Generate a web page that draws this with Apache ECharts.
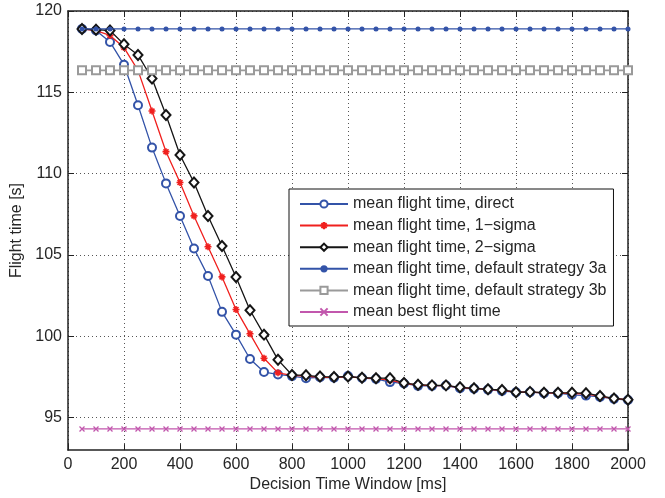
<!DOCTYPE html>
<html>
<head>
<meta charset="utf-8">
<script src="https://cdn.jsdelivr.net/npm/echarts@6/dist/echarts.min.js"></script>
<style>
html,body{margin:0;padding:0;background:#fff;}
#chart{width:665px;height:498px;}
</style>
</head>
<body>
<div id="chart"></div>
<script>
// Decision time window [ms]
var xValues = [50,100,150,200,250,300,350,400,450,500,550,600,650,700,750,800,850,900,950,1000,
  1050,1100,1150,1200,1250,1300,1350,1400,1450,1500,1550,1600,1650,1700,1750,1800,1850,1900,1950,2000];

var direct = [118.9,118.8,118.1,116.7,114.2,111.6,109.4,107.4,105.4,103.7,101.5,100.1,98.6,97.8,97.65,
  97.55,97.42,97.48,97.45,97.55,97.43,97.38,97.18,97.1,96.95,96.95,96.97,96.8,96.78,96.72,
  96.63,96.56,96.56,96.5,96.5,96.4,96.35,96.27,96.15,96.08];

var sigma1 = [118.9,118.8,118.5,117.75,116.35,113.85,111.35,109.45,107.4,105.5,103.65,101.65,100.15,98.65,97.75,
  97.6,97.55,97.47,97.47,97.5,97.44,97.4,97.3,97.1,97.0,96.97,96.97,96.84,96.79,96.73,
  96.67,96.57,96.57,96.52,96.5,96.48,96.46,96.3,96.17,96.1];

var sigma2 = [118.9,118.85,118.8,117.95,117.3,115.85,113.6,111.15,109.45,107.4,105.55,103.65,101.6,100.1,98.55,
  97.62,97.6,97.52,97.5,97.52,97.45,97.42,97.42,97.12,97.02,96.98,96.98,96.86,96.8,96.74,
  96.7,96.56,96.58,96.53,96.52,96.52,96.5,96.33,96.18,96.1];

var strategy3a = [118.9,118.9,118.9,118.9,118.9,118.9,118.9,118.9,118.9,118.9,118.9,118.9,118.9,118.9,118.9,
  118.9,118.9,118.9,118.9,118.9,118.9,118.9,118.9,118.9,118.9,118.9,118.9,118.9,118.9,118.9,
  118.9,118.9,118.9,118.9,118.9,118.9,118.9,118.9,118.9,118.9];

var strategy3b = [116.35,116.35,116.35,116.35,116.35,116.35,116.35,116.35,116.35,116.35,116.35,116.35,116.35,116.35,116.35,
  116.35,116.35,116.35,116.35,116.35,116.35,116.35,116.35,116.35,116.35,116.35,116.35,116.35,116.35,116.35,
  116.35,116.35,116.35,116.35,116.35,116.35,116.35,116.35,116.35,116.35];

var bestTime = [94.3,94.3,94.3,94.3,94.3,94.3,94.3,94.3,94.3,94.3,94.3,94.3,94.3,94.3,94.3,
  94.3,94.3,94.3,94.3,94.3,94.3,94.3,94.3,94.3,94.3,94.3,94.3,94.3,94.3,94.3,
  94.3,94.3,94.3,94.3,94.3,94.3,94.3,94.3,94.3,94.3];

var yTickValues = [95,100,105,110,115,120];

var seriesNames = ['mean flight time, direct','mean flight time, 1\u2212sigma','mean flight time, 2\u2212sigma',
  'mean flight time, default strategy 3a','mean flight time, default strategy 3b','mean best flight time'];

function pairs(ys){ return xValues.map(function(x,i){ return [x, ys[i]]; }); }

var FONT = '"Liberation Sans", Arial, Helvetica, sans-serif';
var TXT = '#262626';
var BLUE = '#3353a8', RED = '#f0201e', BLACK = '#151515', GRAY = '#9a9a9a', MAG = '#c257ad';
var ASTER = 'path://M5,0V10M0,5H10M1.5,1.5L8.5,8.5M1.5,8.5L8.5,1.5';
var CROSS = 'path://M0,0L10,10M0,10L10,0';
var FS = 16;

var chart = echarts.init(document.getElementById('chart'), null, {renderer:'canvas'});

var axisLineStyle = {show:true, onZero:false, lineStyle:{color:'#222', width:1.5}};
var tickStyle = {show:true, inside:true, length:6, lineStyle:{color:'#222', width:1}};

chart.setOption({
  animation:false,
  backgroundColor:'#fff',
  textStyle:{fontFamily:FONT},
  grid:{left:68, right:37, top:11, bottom:45, containLabel:false},
  xAxis:[
    {type:'value', position:'bottom', min:0, max:2000, interval:200,
      name:'Decision Time Window [ms]', nameLocation:'middle', nameGap:26,
      nameTextStyle:{fontFamily:FONT, fontSize:FS, color:TXT},
      axisLine:axisLineStyle, axisTick:tickStyle,
      axisLabel:{fontFamily:FONT, fontSize:FS, color:TXT, margin:6, formatter:function(v){return String(v);}},
      splitLine:{show:true, lineStyle:{type:[1,3], color:'#555', width:1}}
    },
    {type:'value', position:'top', min:0, max:2000, interval:200,
      axisLine:axisLineStyle, axisTick:tickStyle,
      axisLabel:{show:false}, splitLine:{show:false}}
  ],
  yAxis:[
    {type:'value', position:'left', min:93, max:120,
      name:'Flight time [s]', nameLocation:'middle', nameGap:40, nameRotate:90,
      nameTextStyle:{fontFamily:FONT, fontSize:FS, color:TXT},
      axisLine:axisLineStyle,
      axisLabel:{fontFamily:FONT, fontSize:FS, color:TXT, margin:6, customValues:yTickValues},
      axisTick:{show:true, inside:true, length:6, customValues:yTickValues, lineStyle:{color:'#222', width:1}},
      splitLine:{show:true, lineStyle:{type:[1,3], color:'#555', width:1}}
    },
    {type:'value', position:'right', min:93, max:120,
      axisLine:axisLineStyle,
      axisTick:{show:true, inside:true, length:6, customValues:yTickValues, lineStyle:{color:'#222', width:1}},
      axisLabel:{show:false}, splitLine:{show:false}}
  ],
  legend:{
    orient:'vertical', left:289, top:189,
    backgroundColor:'#fff', borderColor:'#111', borderWidth:1,
    padding:[7,7,6,10], itemWidth:48, itemHeight:9, itemGap:5.6,
    textStyle:{fontFamily:FONT, fontSize:FS, color:TXT},
    data:seriesNames
  },
  series:[
    {name:seriesNames[0], type:'line', data:pairs(direct), symbol:'emptyCircle', symbolSize:8,
      lineStyle:{color:BLUE, width:1.3}, itemStyle:{color:BLUE, borderColor:BLUE, borderWidth:1.3}, z:2},
    {name:seriesNames[1], type:'line', data:pairs(sigma1), symbol:ASTER, symbolSize:7,
      lineStyle:{color:RED, width:1.3}, itemStyle:{color:RED, borderColor:RED, borderWidth:1.6}, z:3},
    {name:seriesNames[2], type:'line', data:pairs(sigma2), symbol:'emptyDiamond', symbolSize:[9,10],
      lineStyle:{color:BLACK, width:1.3}, itemStyle:{color:BLACK, borderColor:BLACK, borderWidth:1.3}, z:4},
    {name:seriesNames[3], type:'line', data:pairs(strategy3a), symbol:'circle', symbolSize:5,
      lineStyle:{color:BLUE, width:1.3}, itemStyle:{color:BLUE, borderWidth:0}, z:5},
    {name:seriesNames[4], type:'line', data:pairs(strategy3b), symbol:'emptyRect', symbolSize:8,
      lineStyle:{color:GRAY, width:1.6}, itemStyle:{color:GRAY, borderColor:GRAY, borderWidth:1.4}, z:5},
    {name:seriesNames[5], type:'line', data:pairs(bestTime), symbol:CROSS, symbolSize:5,
      lineStyle:{color:MAG, width:1.3}, itemStyle:{color:MAG, borderColor:MAG, borderWidth:1.3}, z:5}
  ]
});
</script>
</body>
</html>
